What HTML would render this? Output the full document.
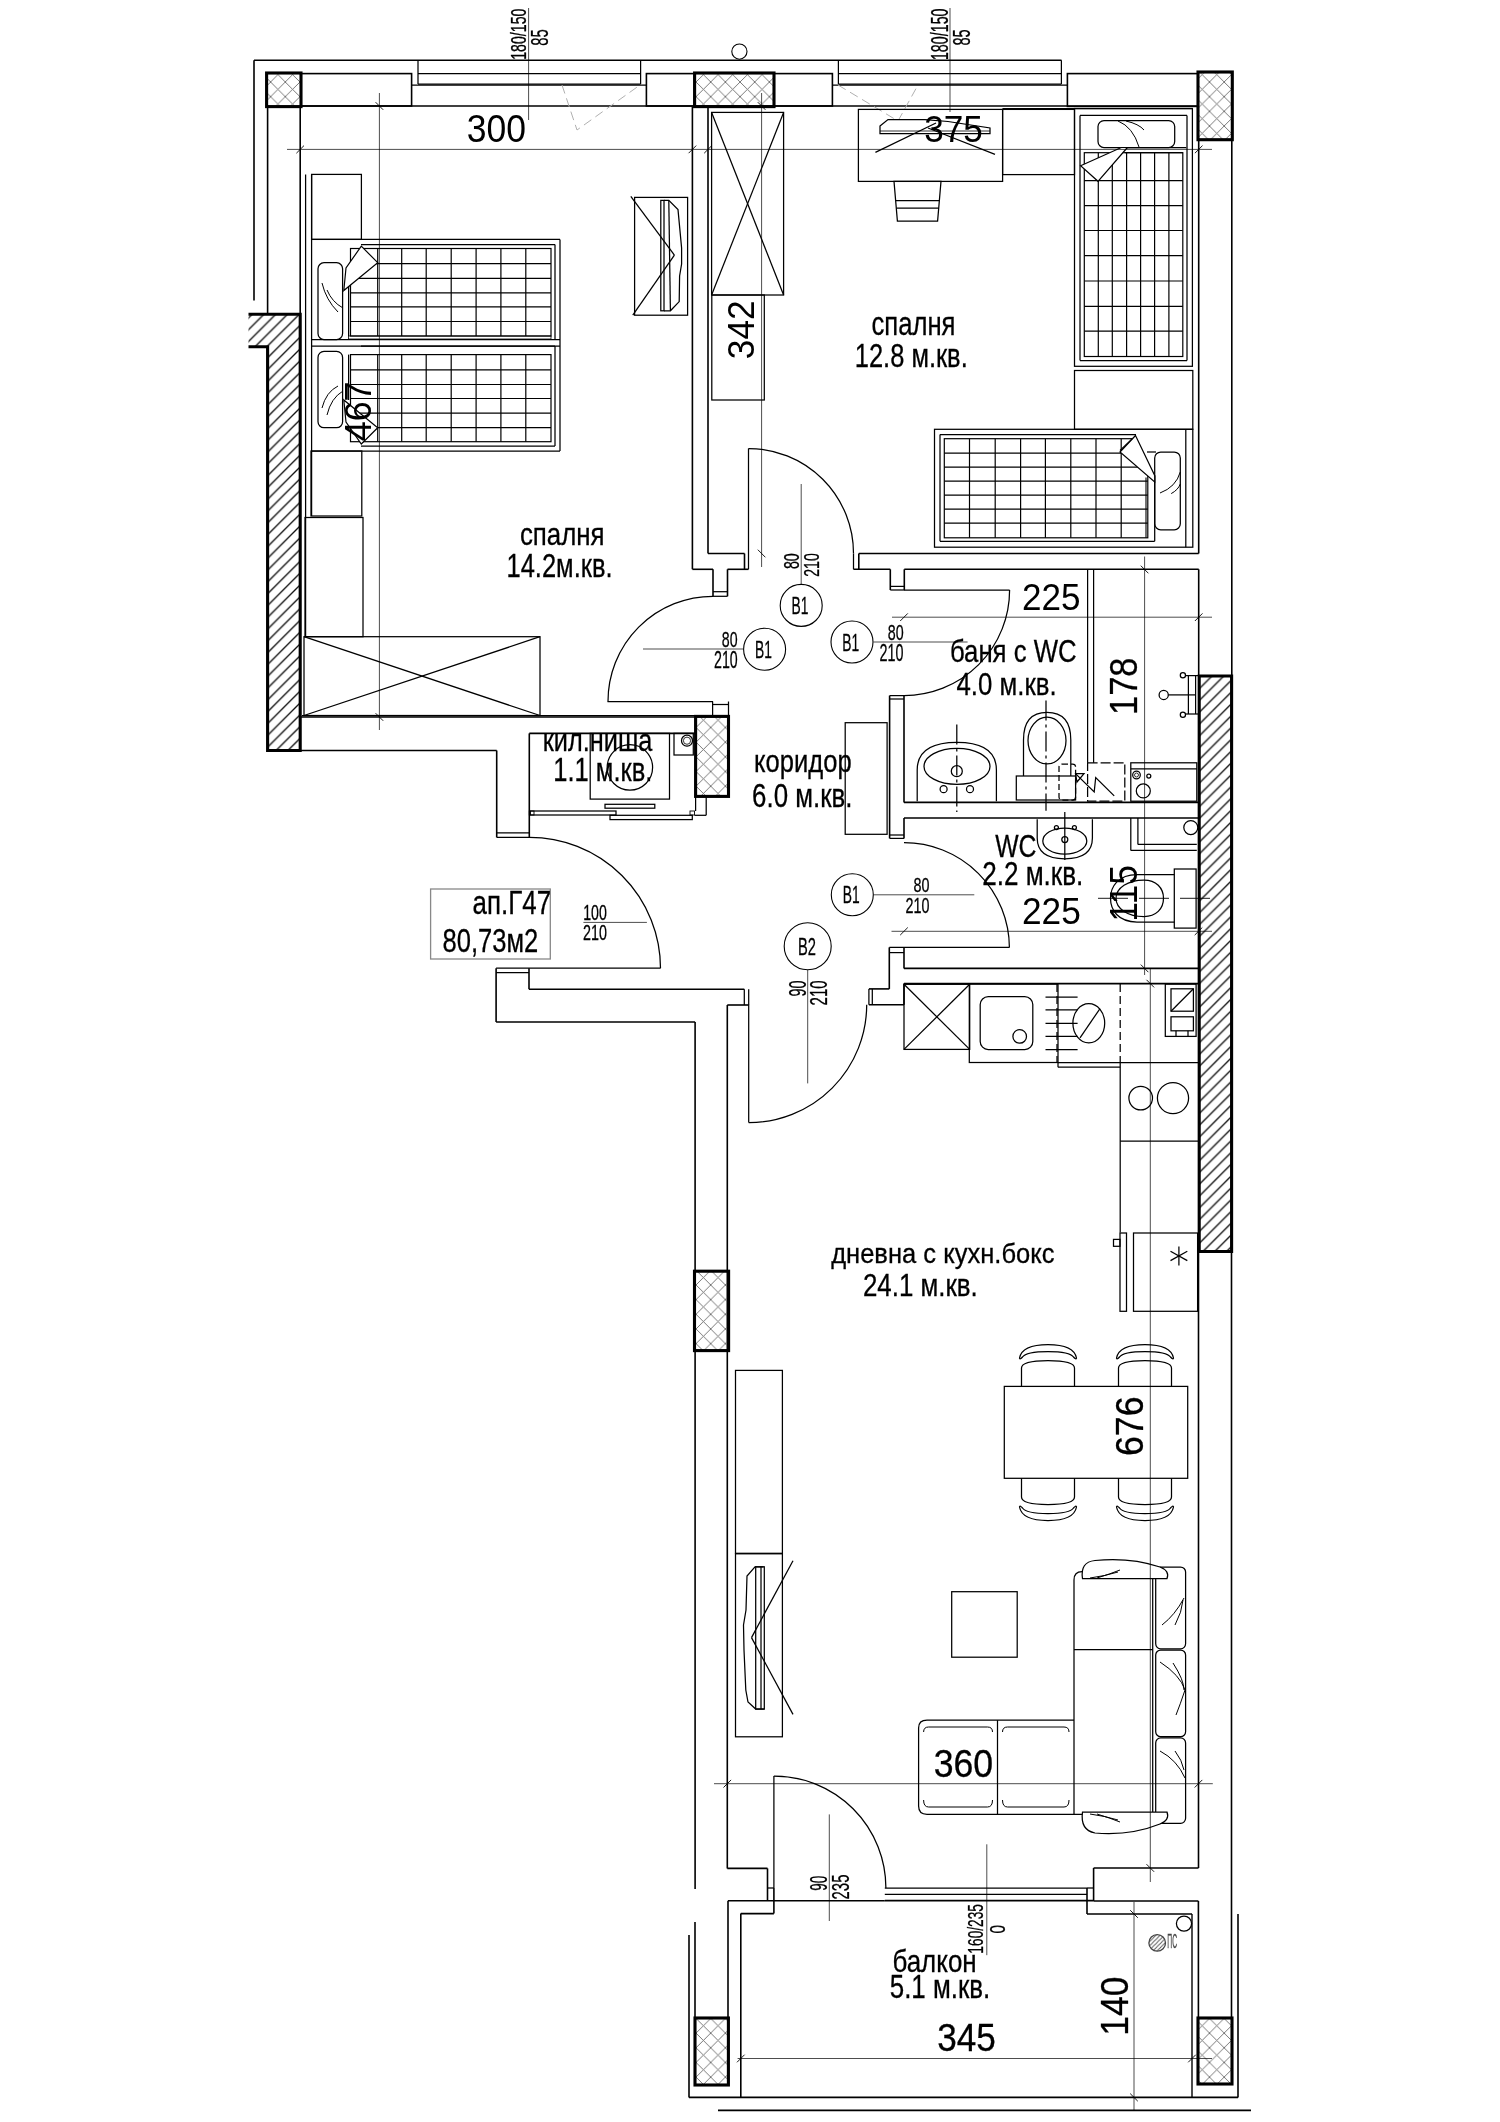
<!DOCTYPE html>
<html><head><meta charset="utf-8"><title>Floor plan</title>
<style>html,body{margin:0;padding:0;background:#fff;}body{width:1500px;height:2122px;overflow:hidden;font-family:"Liberation Sans",sans-serif;}svg{display:block;will-change:transform;}</style>
</head><body>
<svg width="1500" height="2122" viewBox="0 0 1500 2122" font-family="Liberation Sans, sans-serif">
<defs>
<pattern id="hat" patternUnits="userSpaceOnUse" width="11.8" height="11.8">
<path d="M-2,2 L2,-2 M0,11.8 L11.8,0 M9.8,13.8 L13.8,9.8" stroke="#111" stroke-width="1.35"/>
</pattern>
<pattern id="xh" patternUnits="userSpaceOnUse" width="14.67" height="14.67" x="6.54" y="8.65">
<path d="M0,0 L14.67,14.67 M14.67,0 L0,14.67" stroke="#6a6a6a" stroke-width="0.9"/>
</pattern>
<pattern id="hat2" patternUnits="userSpaceOnUse" width="4.2" height="4.2">
<path d="M-1,1 L1,-1 M0,4.2 L4.2,0 M3.2,5.2 L5.2,3.2" stroke="#555" stroke-width="1"/>
</pattern>
</defs>
<rect x="0" y="0" width="1500" height="2122" fill="#fff"/>
<line x1="254" y1="60.3" x2="1061.5" y2="60.3" stroke="#000" stroke-width="1.6"/>
<line x1="254" y1="60.3" x2="254" y2="300.5" stroke="#000" stroke-width="1.6"/>
<rect x="301" y="73.6" width="110.6" height="32.4" fill="none" stroke="#000" stroke-width="1.6"/>
<rect x="646.4" y="73.6" width="48.1" height="32.4" fill="none" stroke="#000" stroke-width="1.6"/>
<rect x="774" y="73.6" width="58.4" height="32.4" fill="none" stroke="#000" stroke-width="1.6"/>
<rect x="1067.4" y="73.6" width="130.6" height="32.8" fill="none" stroke="#000" stroke-width="1.6"/>
<line x1="301" y1="106" x2="1198" y2="106" stroke="#000" stroke-width="1.6"/>
<line x1="418" y1="60.3" x2="418" y2="84" stroke="#000" stroke-width="1.25"/>
<line x1="640.6" y1="60.3" x2="640.6" y2="84" stroke="#000" stroke-width="1.25"/>
<line x1="418" y1="73.6" x2="640.6" y2="73.6" stroke="#000" stroke-width="1.25"/>
<line x1="418" y1="84" x2="640.6" y2="84" stroke="#000" stroke-width="1.25"/>
<line x1="411.6" y1="85.2" x2="646.4" y2="85.2" stroke="#000" stroke-width="1.25"/>
<line x1="838.4" y1="60.3" x2="838.4" y2="84" stroke="#000" stroke-width="1.25"/>
<line x1="1061.4" y1="60.3" x2="1061.4" y2="84" stroke="#000" stroke-width="1.25"/>
<line x1="838.4" y1="73.6" x2="1061.4" y2="73.6" stroke="#000" stroke-width="1.25"/>
<line x1="838.4" y1="84" x2="1061.4" y2="84" stroke="#000" stroke-width="1.25"/>
<line x1="832.4" y1="85.2" x2="1067.4" y2="85.2" stroke="#000" stroke-width="1.25"/>
<polyline points="562,85 577,130 640,85" fill="none" stroke="#b0b0b0" stroke-width="1" stroke-linejoin="miter" stroke-dasharray="9 5"/>
<polyline points="838,85 898,121 918,85" fill="none" stroke="#b0b0b0" stroke-width="1" stroke-linejoin="miter" stroke-dasharray="9 5"/>
<rect x="266.6" y="73" width="34.4" height="33.6" fill="url(#xh)" stroke="#000" stroke-width="3.1"/>
<rect x="694.6" y="73" width="79.4" height="33.6" fill="url(#xh)" stroke="#000" stroke-width="3.1"/>
<rect x="1198" y="72" width="34.3" height="67.7" fill="url(#xh)" stroke="#000" stroke-width="3.1"/>
<circle cx="739.4" cy="51.6" r="7.6" fill="none" stroke="#000" stroke-width="1.1"/>
<line x1="267.6" y1="106" x2="267.6" y2="313" stroke="#000" stroke-width="1.6"/>
<line x1="300.2" y1="106" x2="300.2" y2="313" stroke="#000" stroke-width="1.6"/>
<polygon points="248.5,314.2 300.2,314.2 300.2,750.5 267.6,750.5 267.6,346.8 248.5,346.8" fill="url(#hat)" stroke="#000" stroke-width="0" stroke-linejoin="miter"/>
<polyline points="248.5,314.2 300.2,314.2 300.2,750.5 267.6,750.5 267.6,346.8 248.5,346.8" fill="none" stroke="#000" stroke-width="3.1" stroke-linejoin="miter"/>
<line x1="1198.7" y1="139.7" x2="1198.7" y2="553.5" stroke="#000" stroke-width="1.6"/>
<line x1="1198.7" y1="569.3" x2="1198.7" y2="676" stroke="#000" stroke-width="1.6"/>
<line x1="1231.8" y1="139.7" x2="1231.8" y2="676" stroke="#000" stroke-width="1.6"/>
<polygon points="1199.2,676 1231.6,676 1231.6,1251.5 1199.2,1251.5" fill="url(#hat)" stroke="#000" stroke-width="3.1" stroke-linejoin="miter"/>
<line x1="1198.5" y1="1251.5" x2="1198.5" y2="1868" stroke="#000" stroke-width="1.6"/>
<line x1="1231.5" y1="1251.5" x2="1231.5" y2="2018" stroke="#000" stroke-width="1.6"/>
<line x1="692.4" y1="106.6" x2="692.4" y2="569.3" stroke="#000" stroke-width="1.6"/>
<line x1="708" y1="106.6" x2="708" y2="553.5" stroke="#000" stroke-width="1.6"/>
<line x1="708" y1="553.5" x2="744.5" y2="553.5" stroke="#000" stroke-width="1.6"/>
<line x1="858.8" y1="553.5" x2="1198.7" y2="553.5" stroke="#000" stroke-width="1.6"/>
<line x1="692.4" y1="569.3" x2="713" y2="569.3" stroke="#000" stroke-width="1.6"/>
<line x1="727.5" y1="569.3" x2="748.5" y2="569.3" stroke="#000" stroke-width="1.6"/>
<line x1="853.5" y1="569.3" x2="890.3" y2="569.3" stroke="#000" stroke-width="1.6"/>
<line x1="904.3" y1="569.3" x2="1198.7" y2="569.3" stroke="#000" stroke-width="1.6"/>
<line x1="713" y1="569.3" x2="713" y2="596.3" stroke="#000" stroke-width="1.6"/>
<line x1="727.5" y1="569.3" x2="727.5" y2="596.3" stroke="#000" stroke-width="1.6"/>
<line x1="713" y1="591.7" x2="727.5" y2="591.7" stroke="#000" stroke-width="1.25"/>
<line x1="713" y1="596.3" x2="727.5" y2="596.3" stroke="#000" stroke-width="1.25"/>
<line x1="744.5" y1="553.5" x2="744.5" y2="569.3" stroke="#000" stroke-width="1.6"/>
<line x1="853.5" y1="553.5" x2="853.5" y2="569.3" stroke="#000" stroke-width="1.25"/>
<line x1="858.8" y1="553.5" x2="858.8" y2="569.3" stroke="#000" stroke-width="1.6"/>
<line x1="890.3" y1="569.3" x2="890.3" y2="590" stroke="#000" stroke-width="1.6"/>
<line x1="904.3" y1="569.3" x2="904.3" y2="590" stroke="#000" stroke-width="1.6"/>
<line x1="890.3" y1="586.4" x2="904.3" y2="586.4" stroke="#000" stroke-width="1.25"/>
<line x1="890.3" y1="590" x2="904.3" y2="590" stroke="#000" stroke-width="1.25"/>
<line x1="748.5" y1="448.5" x2="748.5" y2="569.3" stroke="#000" stroke-width="1.25"/>
<path d="M748.5 448.5A105 105 0 0 1 853.5 553.5" fill="none" stroke="#000" stroke-width="1.25"/>
<line x1="607.5" y1="701.5" x2="713" y2="701.5" stroke="#000" stroke-width="1.25"/>
<path d="M713 596.3A105 105 0 0 0 608 701.5" fill="none" stroke="#000" stroke-width="1.25"/>
<line x1="712.6" y1="701.5" x2="712.6" y2="716.4" stroke="#000" stroke-width="1.25"/>
<line x1="728.5" y1="701.5" x2="728.5" y2="716.4" stroke="#000" stroke-width="1.25"/>
<line x1="712.6" y1="704.5" x2="728.5" y2="704.5" stroke="#000" stroke-width="1.25"/>
<line x1="904" y1="590" x2="1009.6" y2="590" stroke="#000" stroke-width="1.25"/>
<path d="M1009.6 590A105.6 105.6 0 0 1 904 695.6" fill="none" stroke="#000" stroke-width="1.25"/>
<line x1="889.3" y1="947.4" x2="1009.4" y2="947.4" stroke="#000" stroke-width="1.25"/>
<path d="M904 842.7A105.4 105.4 0 0 1 1009.4 947.4" fill="none" stroke="#000" stroke-width="1.25"/>
<line x1="529" y1="968.2" x2="660.5" y2="968.2" stroke="#000" stroke-width="1.25"/>
<path d="M529 837.4A131 131 0 0 1 660.5 968.2" fill="none" stroke="#000" stroke-width="1.25"/>
<line x1="748.7" y1="1004.7" x2="748.7" y2="1122.6" stroke="#000" stroke-width="1.25"/>
<path d="M866.7 1004.7A118 118 0 0 1 748.7 1122.7" fill="none" stroke="#000" stroke-width="1.25"/>
<line x1="773.9" y1="1776" x2="773.9" y2="1888" stroke="#000" stroke-width="1.25"/>
<path d="M773.9 1776A112 112 0 0 1 885.9 1888" fill="none" stroke="#000" stroke-width="1.25"/>
<line x1="889.6" y1="695.6" x2="889.6" y2="838.4" stroke="#000" stroke-width="1.6"/>
<line x1="904" y1="695.6" x2="904" y2="802.4" stroke="#000" stroke-width="1.6"/>
<line x1="904" y1="818" x2="904" y2="838.4" stroke="#000" stroke-width="1.6"/>
<line x1="889.6" y1="695.6" x2="904" y2="695.6" stroke="#000" stroke-width="1.25"/>
<line x1="889.6" y1="699" x2="904" y2="699" stroke="#000" stroke-width="1.25"/>
<line x1="889.6" y1="835" x2="904" y2="835" stroke="#000" stroke-width="1.25"/>
<line x1="889.6" y1="838.4" x2="904" y2="838.4" stroke="#000" stroke-width="1.25"/>
<line x1="904" y1="802.4" x2="1199" y2="802.4" stroke="#000" stroke-width="1.6"/>
<line x1="904" y1="818" x2="1199" y2="818" stroke="#000" stroke-width="1.6"/>
<line x1="889.3" y1="947.4" x2="889.3" y2="988.9" stroke="#000" stroke-width="1.6"/>
<line x1="904" y1="947.4" x2="904" y2="968.5" stroke="#000" stroke-width="1.6"/>
<line x1="889.3" y1="952.6" x2="904" y2="952.6" stroke="#000" stroke-width="1.25"/>
<line x1="904" y1="968.4" x2="1198.5" y2="968.4" stroke="#000" stroke-width="1.6"/>
<line x1="904" y1="983.6" x2="1198.5" y2="983.6" stroke="#000" stroke-width="1.6"/>
<line x1="868.9" y1="988.9" x2="889.3" y2="988.9" stroke="#000" stroke-width="1.6"/>
<line x1="868.9" y1="988.9" x2="868.9" y2="1004.7" stroke="#000" stroke-width="1.25"/>
<line x1="872.3" y1="988.9" x2="872.3" y2="1004.7" stroke="#000" stroke-width="1.25"/>
<line x1="868.9" y1="1004.7" x2="904" y2="1004.7" stroke="#000" stroke-width="1.6"/>
<line x1="904" y1="983.6" x2="904" y2="1004.7" stroke="#000" stroke-width="1.6"/>
<line x1="1087.6" y1="569.6" x2="1087.6" y2="762.8" stroke="#000" stroke-width="1.25"/>
<line x1="1093.6" y1="569.6" x2="1093.6" y2="762.8" stroke="#000" stroke-width="1.25"/>
<line x1="300.2" y1="717" x2="695.6" y2="717" stroke="#000" stroke-width="1.6"/>
<line x1="300.2" y1="750.5" x2="496.7" y2="750.5" stroke="#000" stroke-width="1.6"/>
<line x1="496.7" y1="750.5" x2="496.7" y2="837.4" stroke="#000" stroke-width="1.6"/>
<line x1="529.3" y1="733.4" x2="529.3" y2="837.4" stroke="#000" stroke-width="1.6"/>
<line x1="529.3" y1="733.4" x2="695.6" y2="733.4" stroke="#000" stroke-width="1.6"/>
<line x1="496.7" y1="832.9" x2="529.3" y2="832.9" stroke="#000" stroke-width="1.25"/>
<line x1="496.7" y1="837.4" x2="529.3" y2="837.4" stroke="#000" stroke-width="1.25"/>
<line x1="496.1" y1="968.2" x2="529" y2="968.2" stroke="#000" stroke-width="1.25"/>
<line x1="496.1" y1="972.5" x2="529" y2="972.5" stroke="#000" stroke-width="1.25"/>
<line x1="496.1" y1="968.2" x2="496.1" y2="1022" stroke="#000" stroke-width="1.6"/>
<line x1="529" y1="968.2" x2="529" y2="989.3" stroke="#000" stroke-width="1.6"/>
<line x1="529" y1="989.3" x2="744.3" y2="989.3" stroke="#000" stroke-width="1.6"/>
<line x1="496.1" y1="1022" x2="695.1" y2="1022" stroke="#000" stroke-width="1.6"/>
<line x1="744.3" y1="989.3" x2="744.3" y2="1005" stroke="#000" stroke-width="1.25"/>
<line x1="748.7" y1="989.3" x2="748.7" y2="1005" stroke="#000" stroke-width="1.25"/>
<line x1="727.3" y1="1005" x2="748.7" y2="1005" stroke="#000" stroke-width="1.6"/>
<rect x="695.6" y="716.4" width="32.9" height="80" fill="url(#xh)" stroke="#000" stroke-width="3.1"/>
<line x1="695.6" y1="796.4" x2="695.6" y2="811" stroke="#000" stroke-width="1.25"/>
<rect x="590.2" y="733.4" width="79.3" height="65.7" fill="none" stroke="#000" stroke-width="1.25"/>
<circle cx="629.9" cy="767.4" r="22.7" fill="none" stroke="#000" stroke-width="1.25"/>
<rect x="674" y="733.4" width="19.3" height="21.6" fill="none" stroke="#000" stroke-width="1.25"/>
<circle cx="687" cy="740.7" r="5.5" fill="none" stroke="#000" stroke-width="1.25"/>
<circle cx="687" cy="740.7" r="3.6" fill="none" stroke="#000" stroke-width="0.8"/>
<rect x="605" y="804.3" width="49.8" height="3.9" fill="none" stroke="#000" stroke-width="1.25"/>
<rect x="530.3" y="811" width="85.7" height="4" fill="none" stroke="#000" stroke-width="1.25"/>
<rect x="610" y="815.3" width="82.3" height="4.3" fill="none" stroke="#000" stroke-width="1.25"/>
<rect x="529.3" y="811" width="4.7" height="4" fill="none" stroke="#000" stroke-width="0.9"/>
<rect x="690" y="811" width="4.5" height="4" fill="none" stroke="#000" stroke-width="0.9"/>
<line x1="694.5" y1="815.3" x2="706.2" y2="815.3" stroke="#000" stroke-width="1.25"/>
<line x1="706.2" y1="796.4" x2="706.2" y2="815.3" stroke="#000" stroke-width="1.25"/>
<line x1="695.1" y1="1022" x2="695.1" y2="1889" stroke="#000" stroke-width="1.6"/>
<line x1="727.3" y1="1005" x2="727.3" y2="1868.4" stroke="#000" stroke-width="1.6"/>
<rect x="694.5" y="1271.2" width="34.1" height="79.4" fill="url(#xh)" stroke="#000" stroke-width="3.1"/>
<line x1="1093.6" y1="1868" x2="1198.5" y2="1868" stroke="#000" stroke-width="1.6"/>
<line x1="1093.6" y1="1868" x2="1093.6" y2="1901" stroke="#000" stroke-width="1.6"/>
<line x1="1093.6" y1="1901" x2="1198.4" y2="1901" stroke="#000" stroke-width="1.6"/>
<line x1="1198.4" y1="1901" x2="1198.4" y2="2018" stroke="#000" stroke-width="1.6"/>
<line x1="727.3" y1="1868.4" x2="767.5" y2="1868.4" stroke="#000" stroke-width="1.6"/>
<line x1="767.5" y1="1868.4" x2="767.5" y2="1900.8" stroke="#000" stroke-width="1.6"/>
<line x1="773.9" y1="1888" x2="773.9" y2="1913.6" stroke="#000" stroke-width="1.6"/>
<line x1="767.5" y1="1888" x2="773.9" y2="1888" stroke="#000" stroke-width="1.25"/>
<line x1="728" y1="1900.8" x2="884.8" y2="1900.8" stroke="#000" stroke-width="1.6"/>
<line x1="728" y1="1900.8" x2="728" y2="2018" stroke="#000" stroke-width="1.6"/>
<line x1="740.8" y1="1913.6" x2="773.9" y2="1913.6" stroke="#000" stroke-width="1.6"/>
<line x1="740.8" y1="1913.6" x2="740.8" y2="2097.4" stroke="#000" stroke-width="1.6"/>
<line x1="884.8" y1="1888" x2="1087" y2="1888" stroke="#000" stroke-width="1.25"/>
<line x1="884.8" y1="1894.4" x2="1087" y2="1894.4" stroke="#000" stroke-width="1.25"/>
<line x1="884.8" y1="1900.6" x2="1093.6" y2="1900.6" stroke="#000" stroke-width="1.6"/>
<line x1="1087" y1="1888" x2="1087" y2="1914" stroke="#000" stroke-width="1.6"/>
<line x1="1093.6" y1="1888" x2="1087" y2="1888" stroke="#000" stroke-width="1.25"/>
<line x1="1087" y1="1914" x2="1192" y2="1914" stroke="#000" stroke-width="1.4"/>
<line x1="1192" y1="1914" x2="1192" y2="2097" stroke="#000" stroke-width="1.4"/>
<line x1="695" y1="1922" x2="695" y2="2018" stroke="#000" stroke-width="1.6"/>
<line x1="689" y1="1935" x2="689" y2="2097.4" stroke="#000" stroke-width="1.6"/>
<line x1="689" y1="2097.4" x2="1238" y2="2097.4" stroke="#000" stroke-width="1.6"/>
<line x1="1238" y1="1914" x2="1238" y2="2097.4" stroke="#000" stroke-width="1.6"/>
<line x1="718" y1="2110.4" x2="1251" y2="2110.4" stroke="#000" stroke-width="1.6"/>
<rect x="695" y="2018" width="33.4" height="67" fill="url(#xh)" stroke="#000" stroke-width="3.1"/>
<rect x="1198" y="2018" width="34" height="66" fill="url(#xh)" stroke="#000" stroke-width="3.1"/>
<circle cx="1184" cy="1923.6" r="7.6" fill="none" stroke="#000" stroke-width="1.25"/>
<circle cx="1157.2" cy="1942.9" r="8.3" fill="url(#hat2)" stroke="#444" stroke-width="1.3"/>
<line x1="305.6" y1="174.4" x2="305.6" y2="636.7" stroke="#000" stroke-width="1.25"/>
<line x1="311.6" y1="174.4" x2="311.6" y2="516" stroke="#000" stroke-width="1.25"/>
<rect x="311.6" y="174.4" width="49.8" height="65" fill="none" stroke="#000" stroke-width="1.25"/>
<line x1="311.6" y1="239.4" x2="560" y2="239.4" stroke="#000" stroke-width="1.25"/>
<line x1="560" y1="239.4" x2="560" y2="451" stroke="#000" stroke-width="1.25"/>
<line x1="311.6" y1="339.5" x2="560" y2="339.5" stroke="#000" stroke-width="1.25"/>
<line x1="311.6" y1="346" x2="560" y2="346" stroke="#000" stroke-width="1.25"/>
<line x1="311.6" y1="451" x2="560" y2="451" stroke="#000" stroke-width="1.25"/>
<line x1="361" y1="244.5" x2="555" y2="244.5" stroke="#000" stroke-width="1.25"/>
<line x1="555" y1="244.5" x2="555" y2="339.5" stroke="#000" stroke-width="1.25"/>
<rect x="348.5" y="336" width="202.5" height="3" fill="none" stroke="#000" stroke-width="0.8"/>
<rect x="350.5" y="248.5" width="200.5" height="87.5" fill="none" stroke="#000" stroke-width="1.2"/>
<line x1="377.7" y1="248.5" x2="377.7" y2="336" stroke="#000" stroke-width="1.2"/>
<line x1="401.7" y1="248.5" x2="401.7" y2="336" stroke="#000" stroke-width="1.2"/>
<line x1="426.2" y1="248.5" x2="426.2" y2="336" stroke="#000" stroke-width="1.2"/>
<line x1="451.2" y1="248.5" x2="451.2" y2="336" stroke="#000" stroke-width="1.2"/>
<line x1="476.1" y1="248.5" x2="476.1" y2="336" stroke="#000" stroke-width="1.2"/>
<line x1="500.9" y1="248.5" x2="500.9" y2="336" stroke="#000" stroke-width="1.2"/>
<line x1="525.8" y1="248.5" x2="525.8" y2="336" stroke="#000" stroke-width="1.2"/>
<line x1="350.5" y1="263.6" x2="551" y2="263.6" stroke="#000" stroke-width="1.2"/>
<line x1="350.5" y1="278.3" x2="551" y2="278.3" stroke="#000" stroke-width="1.2"/>
<line x1="350.5" y1="292.8" x2="551" y2="292.8" stroke="#000" stroke-width="1.2"/>
<line x1="350.5" y1="306.8" x2="551" y2="306.8" stroke="#000" stroke-width="1.2"/>
<line x1="350.5" y1="321.5" x2="551" y2="321.5" stroke="#000" stroke-width="1.2"/>
<rect x="318" y="262.7" width="24.6" height="76.8" fill="none" stroke="#000" stroke-width="1.25" rx="6"/>
<line x1="348.6" y1="268" x2="348.6" y2="336" stroke="#000" stroke-width="1.25"/>
<path d="M327 290 Q332 302 343 308" fill="none" stroke="#000" stroke-width="1"/>
<path d="M322 283 Q326 300 338 312" fill="none" stroke="#000" stroke-width="1"/>
<polygon points="361.3,246.1 377.7,262.7 343.8,290.5 346,268" fill="#fff" stroke="#000" stroke-width="1.2" stroke-linejoin="miter"/>
<line x1="361" y1="346" x2="555" y2="346" stroke="#000" stroke-width="1.25"/>
<line x1="555" y1="346" x2="555" y2="446" stroke="#000" stroke-width="1.25"/>
<line x1="361" y1="446" x2="555" y2="446" stroke="#000" stroke-width="1.25"/>
<rect x="350.5" y="354.6" width="200.5" height="87.1" fill="none" stroke="#000" stroke-width="1.2"/>
<line x1="377.7" y1="354.6" x2="377.7" y2="441.7" stroke="#000" stroke-width="1.2"/>
<line x1="401.7" y1="354.6" x2="401.7" y2="441.7" stroke="#000" stroke-width="1.2"/>
<line x1="426.2" y1="354.6" x2="426.2" y2="441.7" stroke="#000" stroke-width="1.2"/>
<line x1="451.2" y1="354.6" x2="451.2" y2="441.7" stroke="#000" stroke-width="1.2"/>
<line x1="476.1" y1="354.6" x2="476.1" y2="441.7" stroke="#000" stroke-width="1.2"/>
<line x1="500.9" y1="354.6" x2="500.9" y2="441.7" stroke="#000" stroke-width="1.2"/>
<line x1="525.8" y1="354.6" x2="525.8" y2="441.7" stroke="#000" stroke-width="1.2"/>
<line x1="350.5" y1="369.8" x2="551" y2="369.8" stroke="#000" stroke-width="1.2"/>
<line x1="350.5" y1="384.5" x2="551" y2="384.5" stroke="#000" stroke-width="1.2"/>
<line x1="350.5" y1="398.5" x2="551" y2="398.5" stroke="#000" stroke-width="1.2"/>
<line x1="350.5" y1="413.2" x2="551" y2="413.2" stroke="#000" stroke-width="1.2"/>
<line x1="350.5" y1="427.7" x2="551" y2="427.7" stroke="#000" stroke-width="1.2"/>
<rect x="318" y="351.4" width="24.6" height="76.3" fill="none" stroke="#000" stroke-width="1.25" rx="6"/>
<line x1="348.6" y1="354.6" x2="348.6" y2="400" stroke="#000" stroke-width="1.25"/>
<path d="M338 386 Q326 392 322 408" fill="none" stroke="#000" stroke-width="1"/>
<path d="M343 391 Q331 398 327 415" fill="none" stroke="#000" stroke-width="1"/>
<polygon points="361.3,444 377.7,427.7 343.8,400 346,422" fill="#fff" stroke="#000" stroke-width="1.2" stroke-linejoin="miter"/>
<rect x="311" y="451" width="50.8" height="65" fill="none" stroke="#000" stroke-width="1.25"/>
<rect x="305" y="517.5" width="58" height="119.2" fill="none" stroke="#000" stroke-width="1.25"/>
<rect x="304" y="636.7" width="236" height="78.8" fill="none" stroke="#000" stroke-width="1.25"/>
<line x1="304" y1="636.7" x2="540" y2="715.5" stroke="#000" stroke-width="1.25"/>
<line x1="304" y1="715.5" x2="540" y2="636.7" stroke="#000" stroke-width="1.25"/>
<line x1="302" y1="715.5" x2="695.6" y2="715.5" stroke="#000" stroke-width="1.25"/>
<rect x="634.6" y="197.4" width="53" height="117.8" fill="none" stroke="#000" stroke-width="1.25"/>
<line x1="630.8" y1="196.4" x2="674.4" y2="255.2" stroke="#000" stroke-width="1.25"/>
<line x1="674.4" y1="255.2" x2="632.8" y2="315.2" stroke="#000" stroke-width="1.25"/>
<rect x="660.8" y="200.4" width="3.2" height="110.4" fill="none" stroke="#000" stroke-width="1.25"/>
<polyline points="664,200.4 668.8,200.4 678,209.6 681.6,248 681.6,264 679.6,276 679.2,301.6 670.4,310.8 664,310.8" fill="none" stroke="#000" stroke-width="1.25" stroke-linejoin="miter"/>
<line x1="668.8" y1="200.4" x2="670.4" y2="310.8" stroke="#000" stroke-width="1.25"/>
<rect x="711.6" y="112.4" width="72" height="182.6" fill="none" stroke="#000" stroke-width="1.25"/>
<line x1="711.6" y1="112.4" x2="783.6" y2="295" stroke="#000" stroke-width="1.25"/>
<line x1="711.6" y1="295" x2="783.6" y2="112.4" stroke="#000" stroke-width="1.25"/>
<rect x="711.8" y="295" width="52.5" height="105" fill="none" stroke="#000" stroke-width="1.25"/>
<line x1="1002.6" y1="108.5" x2="1192.4" y2="108.5" stroke="#000" stroke-width="1.25"/>
<rect x="858.4" y="109.4" width="144.2" height="72" fill="none" stroke="#000" stroke-width="1.25"/>
<polygon points="894,181.4 941,181.4 937.6,221 897.4,221" fill="none" stroke="#000" stroke-width="1.25" stroke-linejoin="miter"/>
<line x1="896" y1="200.6" x2="939" y2="200.6" stroke="#000" stroke-width="1.25"/>
<line x1="896.6" y1="208" x2="938.4" y2="208" stroke="#000" stroke-width="1.25"/>
<polygon points="880,126 888,119.6 925,119.6 948,121.5 990,128 990,133.5 880,133.5" fill="#fff" stroke="#000" stroke-width="1.25" stroke-linejoin="miter"/>
<line x1="880" y1="131" x2="990" y2="131" stroke="#000" stroke-width="0.8"/>
<line x1="875.4" y1="152.4" x2="936" y2="123" stroke="#000" stroke-width="1.25"/>
<line x1="928" y1="128" x2="995" y2="154.4" stroke="#000" stroke-width="1.25"/>
<rect x="1002.6" y="109.4" width="71.9" height="65.2" fill="none" stroke="#000" stroke-width="1.25"/>
<rect x="1074.5" y="108.5" width="117.9" height="257.8" fill="none" stroke="#000" stroke-width="1.25"/>
<line x1="1080" y1="115.4" x2="1187" y2="115.4" stroke="#000" stroke-width="1.25"/>
<line x1="1080" y1="115.4" x2="1080" y2="360.5" stroke="#000" stroke-width="1.25"/>
<line x1="1187" y1="115.4" x2="1187" y2="360.5" stroke="#000" stroke-width="1.25"/>
<line x1="1080" y1="360.5" x2="1187" y2="360.5" stroke="#000" stroke-width="1.25"/>
<rect x="1098" y="120.6" width="76.7" height="26.9" fill="none" stroke="#000" stroke-width="1.25" rx="6"/>
<path d="M1118 121 Q1133 127 1139 147" fill="none" stroke="#000" stroke-width="1"/>
<path d="M1126 121 Q1139 124 1144 130" fill="none" stroke="#000" stroke-width="1"/>
<line x1="1121" y1="147.5" x2="1186.3" y2="147.5" stroke="#000" stroke-width="1.25"/>
<line x1="1125" y1="152.7" x2="1182.8" y2="152.7" stroke="#000" stroke-width="1.25"/>
<rect x="1084.3" y="152.7" width="98.5" height="203.8" fill="none" stroke="#000" stroke-width="1.2"/>
<line x1="1098.3" y1="152.7" x2="1098.3" y2="356.5" stroke="#000" stroke-width="1.2"/>
<line x1="1112.3" y1="152.7" x2="1112.3" y2="356.5" stroke="#000" stroke-width="1.2"/>
<line x1="1126.6" y1="152.7" x2="1126.6" y2="356.5" stroke="#000" stroke-width="1.2"/>
<line x1="1140.6" y1="152.7" x2="1140.6" y2="356.5" stroke="#000" stroke-width="1.2"/>
<line x1="1154.6" y1="152.7" x2="1154.6" y2="356.5" stroke="#000" stroke-width="1.2"/>
<line x1="1168.9" y1="152.7" x2="1168.9" y2="356.5" stroke="#000" stroke-width="1.2"/>
<line x1="1084.3" y1="180.7" x2="1182.8" y2="180.7" stroke="#000" stroke-width="1.2"/>
<line x1="1084.3" y1="205.6" x2="1182.8" y2="205.6" stroke="#000" stroke-width="1.2"/>
<line x1="1084.3" y1="230.5" x2="1182.8" y2="230.5" stroke="#000" stroke-width="1.2"/>
<line x1="1084.3" y1="255.7" x2="1182.8" y2="255.7" stroke="#000" stroke-width="1.2"/>
<line x1="1084.3" y1="281" x2="1182.8" y2="281" stroke="#000" stroke-width="1.2"/>
<line x1="1084.3" y1="306.3" x2="1182.8" y2="306.3" stroke="#000" stroke-width="1.2"/>
<line x1="1084.3" y1="331.2" x2="1182.8" y2="331.2" stroke="#000" stroke-width="1.2"/>
<polygon points="1080.6,165.7 1121.3,147.5 1127.4,147.5 1098,181.3" fill="#fff" stroke="#000" stroke-width="1.2" stroke-linejoin="miter"/>
<rect x="1074.5" y="370.5" width="118.3" height="58.8" fill="none" stroke="#000" stroke-width="1.25"/>
<rect x="934.5" y="429.3" width="258.3" height="117.9" fill="none" stroke="#000" stroke-width="1.25"/>
<line x1="940" y1="434.5" x2="1136" y2="434.5" stroke="#000" stroke-width="1.25"/>
<line x1="940" y1="434.5" x2="940" y2="541.3" stroke="#000" stroke-width="1.25"/>
<line x1="940" y1="541.3" x2="1154.7" y2="541.3" stroke="#000" stroke-width="1.25"/>
<rect x="944.3" y="438.7" width="203.5" height="99.1" fill="none" stroke="#000" stroke-width="1.2"/>
<line x1="969.5" y1="438.7" x2="969.5" y2="537.8" stroke="#000" stroke-width="1.2"/>
<line x1="995.2" y1="438.7" x2="995.2" y2="537.8" stroke="#000" stroke-width="1.2"/>
<line x1="1020.6" y1="438.7" x2="1020.6" y2="537.8" stroke="#000" stroke-width="1.2"/>
<line x1="1045.4" y1="438.7" x2="1045.4" y2="537.8" stroke="#000" stroke-width="1.2"/>
<line x1="1070.8" y1="438.7" x2="1070.8" y2="537.8" stroke="#000" stroke-width="1.2"/>
<line x1="1096" y1="438.7" x2="1096" y2="537.8" stroke="#000" stroke-width="1.2"/>
<line x1="1121.2" y1="438.7" x2="1121.2" y2="537.8" stroke="#000" stroke-width="1.2"/>
<line x1="944.3" y1="453.1" x2="1147.8" y2="453.1" stroke="#000" stroke-width="1.2"/>
<line x1="944.3" y1="467.1" x2="1147.8" y2="467.1" stroke="#000" stroke-width="1.2"/>
<line x1="944.3" y1="481.1" x2="1147.8" y2="481.1" stroke="#000" stroke-width="1.2"/>
<line x1="944.3" y1="495.1" x2="1147.8" y2="495.1" stroke="#000" stroke-width="1.2"/>
<line x1="944.3" y1="509.1" x2="1147.8" y2="509.1" stroke="#000" stroke-width="1.2"/>
<line x1="944.3" y1="523.1" x2="1147.8" y2="523.1" stroke="#000" stroke-width="1.2"/>
<line x1="1146" y1="477.6" x2="1146" y2="537.8" stroke="#000" stroke-width="1.1"/>
<polygon points="1134,436.5 1150,436.5 1150,478 1154.7,481.9" fill="#fff" stroke="#000" stroke-width="0" stroke-linejoin="miter"/>
<rect x="1154.7" y="452" width="25.6" height="77.8" fill="none" stroke="#000" stroke-width="1.25" rx="6"/>
<line x1="1147" y1="452" x2="1156" y2="452" stroke="#000" stroke-width="1.25"/>
<path d="M1160 493 Q1176 487 1180.3 472" fill="none" stroke="#000" stroke-width="1"/>
<path d="M1171.2 493.6 Q1178 490 1180.3 484" fill="none" stroke="#000" stroke-width="1"/>
<line x1="1185.8" y1="429.3" x2="1185.8" y2="547.2" stroke="#000" stroke-width="1.25"/>
<line x1="1154.7" y1="475.5" x2="1154.7" y2="541.3" stroke="#000" stroke-width="1.25"/>
<polygon points="1135.5,435.5 1120,452 1154.7,481.9 1154.7,475.5" fill="#fff" stroke="#000" stroke-width="1.2" stroke-linejoin="miter"/>
<line x1="1120" y1="450.5" x2="1132.3" y2="438.7" stroke="#000" stroke-width="1.1"/>
<path d="M917.2 801.2 L917.2 770 Q917.2 742.4 957 742.4 Q996.4 742.4 996.4 770 L996.4 801.2" fill="none" stroke="#000" stroke-width="1.25"/>
<ellipse cx="957" cy="766.4" rx="33" ry="18" fill="none" stroke="#000" stroke-width="1.25"/>
<circle cx="956.8" cy="771.2" r="5.5" fill="none" stroke="#000" stroke-width="1.25"/>
<circle cx="943.6" cy="789.2" r="3.5" fill="none" stroke="#000" stroke-width="1.25"/>
<circle cx="970" cy="789.2" r="3.5" fill="none" stroke="#000" stroke-width="1.25"/>
<line x1="956.8" y1="724.4" x2="956.8" y2="812" stroke="#000" stroke-width="1.25" stroke-dasharray="20 4 3 4"/>
<rect x="1016.3" y="776" width="59.3" height="24" fill="none" stroke="#000" stroke-width="1.25"/>
<path d="M1023.5 776 L1023.5 740 Q1023.5 712.4 1047 712.4 Q1070.8 712.4 1070.8 740 L1070.8 776" fill="none" stroke="#000" stroke-width="1.25"/>
<ellipse cx="1047" cy="740.6" rx="19" ry="23.4" fill="none" stroke="#000" stroke-width="1.25"/>
<line x1="1046" y1="700.4" x2="1046" y2="810.8" stroke="#000" stroke-width="1.25" stroke-dasharray="20 4 3 4"/>
<rect x="1059" y="764" width="16.6" height="36" fill="none" stroke="#000" stroke-width="1.25" rx="3" stroke-dasharray="6 3"/>
<rect x="1087.6" y="762.8" width="37.2" height="38.4" fill="none" stroke="#000" stroke-width="1.25" stroke-dasharray="10 3"/>
<polyline points="1075.5,773.6 1094.2,792 1095.7,777.5 1114.2,795.9" fill="none" stroke="#000" stroke-width="1.25" stroke-linejoin="miter"/>
<polygon points="1075.5,773.6 1084,773.6 1077,782" fill="none" stroke="#000" stroke-width="1.25" stroke-linejoin="miter"/>
<rect x="1130.8" y="762.8" width="66" height="38.4" fill="none" stroke="#000" stroke-width="1.25"/>
<line x1="1130.8" y1="768.8" x2="1196.8" y2="768.8" stroke="#000" stroke-width="1.25"/>
<circle cx="1136.5" cy="775" r="3.8" fill="none" stroke="#000" stroke-width="1.25"/>
<circle cx="1136.5" cy="775" r="2" fill="none" stroke="#000" stroke-width="0.8"/>
<circle cx="1148.8" cy="776" r="2" fill="none" stroke="#000" stroke-width="1.25"/>
<circle cx="1143.3" cy="790.9" r="7" fill="none" stroke="#000" stroke-width="1.25"/>
<circle cx="1182.9" cy="675.2" r="2.6" fill="none" stroke="#000" stroke-width="1.25"/>
<circle cx="1163.7" cy="694.9" r="4.6" fill="none" stroke="#000" stroke-width="1.25"/>
<circle cx="1182.9" cy="714.8" r="2.6" fill="none" stroke="#000" stroke-width="1.25"/>
<line x1="1168.3" y1="694.9" x2="1196" y2="694.9" stroke="#000" stroke-width="1.25"/>
<line x1="1188.4" y1="675.6" x2="1188.4" y2="714" stroke="#000" stroke-width="1.25"/>
<line x1="1195.6" y1="675.6" x2="1195.6" y2="714" stroke="#000" stroke-width="1.25"/>
<line x1="1185.5" y1="675.6" x2="1198" y2="675.6" stroke="#000" stroke-width="1.25"/>
<line x1="1185.5" y1="714" x2="1198" y2="714" stroke="#000" stroke-width="1.25"/>
<path d="M1037.2 819.2 L1037.2 838 Q1037.2 858.8 1064.8 858.8 Q1092.4 858.8 1092.4 838 L1092.4 819.2" fill="none" stroke="#000" stroke-width="1.25"/>
<ellipse cx="1064.8" cy="841" rx="22" ry="13" fill="none" stroke="#000" stroke-width="1.25"/>
<circle cx="1064.8" cy="839.6" r="3" fill="none" stroke="#000" stroke-width="1.25"/>
<circle cx="1056.4" cy="827.6" r="2" fill="none" stroke="#000" stroke-width="1.25"/>
<circle cx="1074.4" cy="827.6" r="2" fill="none" stroke="#000" stroke-width="1.25"/>
<line x1="1064.8" y1="812" x2="1064.8" y2="860" stroke="#000" stroke-width="1.25"/>
<line x1="1130.8" y1="818" x2="1130.8" y2="850.4" stroke="#000" stroke-width="1.25"/>
<line x1="1137.9" y1="818" x2="1137.9" y2="844.4" stroke="#000" stroke-width="1.25"/>
<line x1="1137.9" y1="844.4" x2="1196.8" y2="844.4" stroke="#000" stroke-width="1.25"/>
<line x1="1130.8" y1="850.4" x2="1196.8" y2="850.4" stroke="#000" stroke-width="1.25"/>
<circle cx="1190.8" cy="827.6" r="7" fill="none" stroke="#000" stroke-width="1.25"/>
<rect x="1174.3" y="869" width="21.8" height="59.1" fill="none" stroke="#000" stroke-width="1.25"/>
<path d="M1174.3 874.5 L1137 874.5 C1118 874.5 1110.5 887 1110.5 898.3 C1110.5 910 1118 922 1137 922 L1174.3 922" fill="none" stroke="#000" stroke-width="1.25"/>
<path d="M1144 880 C1156 880 1163.5 888 1163.5 898.3 C1163.5 909 1156 916.5 1144 916.5 C1128 916.5 1116 909 1116 898.3 C1116 888 1128 880 1144 880 Z" fill="none" stroke="#000" stroke-width="1.25"/>
<line x1="1098" y1="898.3" x2="1210" y2="898.3" stroke="#000" stroke-width="0.9" stroke-dasharray="30 11"/>
<rect x="904" y="984.3" width="65.7" height="65.1" fill="none" stroke="#000" stroke-width="1.25"/>
<line x1="904" y1="984.3" x2="969.7" y2="1049.4" stroke="#000" stroke-width="1.25"/>
<line x1="904" y1="1049.4" x2="969.7" y2="984.3" stroke="#000" stroke-width="1.25"/>
<rect x="969.3" y="984.1" width="88.7" height="78.4" fill="none" stroke="#000" stroke-width="1.25"/>
<rect x="980.2" y="996.6" width="52.6" height="52.9" fill="none" stroke="#000" stroke-width="1.25" rx="8"/>
<circle cx="1019.7" cy="1036.4" r="6.8" fill="none" stroke="#000" stroke-width="1.25"/>
<line x1="1058" y1="1067.2" x2="1120.2" y2="1067.2" stroke="#000" stroke-width="1.25"/>
<line x1="1058" y1="1062.5" x2="1058" y2="1067.2" stroke="#000" stroke-width="1.25"/>
<line x1="1045.5" y1="997.2" x2="1077.6" y2="997.2" stroke="#000" stroke-width="1.25"/>
<line x1="1045.5" y1="1009.9" x2="1077.6" y2="1009.9" stroke="#000" stroke-width="1.25"/>
<line x1="1045.5" y1="1023.3" x2="1077.6" y2="1023.3" stroke="#000" stroke-width="1.25"/>
<line x1="1045.5" y1="1036.4" x2="1077.6" y2="1036.4" stroke="#000" stroke-width="1.25"/>
<line x1="1045.5" y1="1049.5" x2="1077.6" y2="1049.5" stroke="#000" stroke-width="1.25"/>
<line x1="1057" y1="984.1" x2="1057" y2="1062.5" stroke="#000" stroke-width="1.25" stroke-dasharray="8 4"/>
<ellipse cx="1088.8" cy="1023.3" rx="15.9" ry="19.6" fill="none" stroke="#000" stroke-width="1.25"/>
<line x1="1080" y1="1037.8" x2="1100" y2="1008.6" stroke="#000" stroke-width="1.25"/>
<line x1="1120.2" y1="984.1" x2="1120.2" y2="1062.5" stroke="#000" stroke-width="1.25" stroke-dasharray="8 4"/>
<line x1="1058" y1="1062.5" x2="1198" y2="1062.5" stroke="#000" stroke-width="1.25"/>
<rect x="1165.3" y="984.1" width="30.8" height="52.3" fill="none" stroke="#000" stroke-width="1.25"/>
<rect x="1171" y="988.8" width="22.4" height="22.4" fill="none" stroke="#000" stroke-width="1.25"/>
<line x1="1171" y1="1011.2" x2="1193.4" y2="988.8" stroke="#000" stroke-width="1.25"/>
<rect x="1171" y="1016.8" width="22.4" height="14" fill="none" stroke="#000" stroke-width="1.25"/>
<line x1="1176" y1="1030.8" x2="1176" y2="1036.4" stroke="#000" stroke-width="1.25"/>
<line x1="1188" y1="1030.8" x2="1188" y2="1036.4" stroke="#000" stroke-width="1.25"/>
<line x1="1120.2" y1="1062.5" x2="1120.2" y2="1232.5" stroke="#000" stroke-width="1.25"/>
<circle cx="1140.7" cy="1098.1" r="11.8" fill="none" stroke="#000" stroke-width="1.25"/>
<circle cx="1173" cy="1098.1" r="15.6" fill="none" stroke="#000" stroke-width="1.25"/>
<line x1="1120.2" y1="1141" x2="1198" y2="1141" stroke="#000" stroke-width="1.25"/>
<rect x="1133.5" y="1233" width="64.1" height="78.3" fill="none" stroke="#000" stroke-width="1.25"/>
<rect x="1120" y="1233" width="6.5" height="78.3" fill="none" stroke="#000" stroke-width="1.25"/>
<rect x="1113.5" y="1239.4" width="6.5" height="6.9" fill="none" stroke="#000" stroke-width="1.25"/>
<line x1="1178.9" y1="1246.5" x2="1178.9" y2="1265.5" stroke="#000" stroke-width="1.25"/>
<line x1="1170.5" y1="1251.2" x2="1187.3" y2="1260.6" stroke="#000" stroke-width="1.25"/>
<line x1="1170.5" y1="1260.6" x2="1187.3" y2="1251.2" stroke="#000" stroke-width="1.25"/>
<rect x="735.5" y="1370.4" width="46.9" height="182.9" fill="none" stroke="#000" stroke-width="1.25"/>
<rect x="735.5" y="1553.8" width="46.9" height="183" fill="none" stroke="#000" stroke-width="1.25"/>
<polyline points="763.5,1566.8 755,1566.8 747,1576 746,1610 743.5,1625 744,1650 745.8,1690 748,1702 755.7,1709 764.5,1709" fill="none" stroke="#000" stroke-width="1.25" stroke-linejoin="miter"/>
<rect x="755.7" y="1566.8" width="8.6" height="142.2" fill="none" stroke="#000" stroke-width="1.25"/>
<line x1="761" y1="1566.8" x2="761" y2="1709" stroke="#000" stroke-width="1.25"/>
<line x1="793" y1="1560.8" x2="751.5" y2="1637.6" stroke="#000" stroke-width="1.25"/>
<line x1="751.5" y1="1637.6" x2="793" y2="1714.4" stroke="#000" stroke-width="1.25"/>
<rect x="1004.3" y="1386.4" width="183.4" height="91.9" fill="none" stroke="#000" stroke-width="1.25"/>
<path d="M1021.5 1386.4 L1021.5 1368 Q1021.5 1360.5 1048 1360.5 Q1074.5 1360.5 1074.5 1368 L1074.5 1386.4" fill="none" stroke="#000" stroke-width="1.25"/>
<path d="M1019.5 1358 Q1022 1344.5 1048 1344.5 Q1074 1344.5 1076.5 1358 Q1076 1360 1073.5 1357 Q1070 1351.5 1048 1351.5 Q1026 1351.5 1022.5 1357 Q1020 1360 1019.5 1358 Z" fill="none" stroke="#000" stroke-width="1.25"/>
<path d="M1021.5 1478.3 L1021.5 1497 Q1021.5 1504.5 1048 1504.5 Q1074.5 1504.5 1074.5 1497 L1074.5 1478.3" fill="none" stroke="#000" stroke-width="1.25"/>
<path d="M1019.5 1507 Q1022 1520.5 1048 1520.5 Q1074 1520.5 1076.5 1507 Q1076 1505 1073.5 1508 Q1070 1513.5 1048 1513.5 Q1026 1513.5 1022.5 1508 Q1020 1505 1019.5 1507 Z" fill="none" stroke="#000" stroke-width="1.25"/>
<path d="M1118.5 1386.4 L1118.5 1368 Q1118.5 1360.5 1145 1360.5 Q1171.5 1360.5 1171.5 1368 L1171.5 1386.4" fill="none" stroke="#000" stroke-width="1.25"/>
<path d="M1116.5 1358 Q1119 1344.5 1145 1344.5 Q1171 1344.5 1173.5 1358 Q1173 1360 1170.5 1357 Q1167 1351.5 1145 1351.5 Q1123 1351.5 1119.5 1357 Q1117 1360 1116.5 1358 Z" fill="none" stroke="#000" stroke-width="1.25"/>
<path d="M1118.5 1478.3 L1118.5 1497 Q1118.5 1504.5 1145 1504.5 Q1171.5 1504.5 1171.5 1497 L1171.5 1478.3" fill="none" stroke="#000" stroke-width="1.25"/>
<path d="M1116.5 1507 Q1119 1520.5 1145 1520.5 Q1171 1520.5 1173.5 1507 Q1173 1505 1170.5 1508 Q1167 1513.5 1145 1513.5 Q1123 1513.5 1119.5 1508 Q1117 1505 1116.5 1507 Z" fill="none" stroke="#000" stroke-width="1.25"/>
<rect x="951.7" y="1591.7" width="65.5" height="65.5" fill="none" stroke="#000" stroke-width="1.25"/>
<path d="M1074 1814.3 L1074 1580 Q1074 1571.7 1082 1571.7 L1152.7 1571.7" fill="none" stroke="#000" stroke-width="1.25"/>
<line x1="1074" y1="1649.5" x2="1152.7" y2="1649.5" stroke="#000" stroke-width="1.25"/>
<line x1="1152.7" y1="1571.7" x2="1152.7" y2="1814.3" stroke="#000" stroke-width="1.25"/>
<line x1="1074" y1="1814.3" x2="1152.7" y2="1814.3" stroke="#000" stroke-width="1.25"/>
<rect x="1155.7" y="1567" width="29.9" height="81.8" fill="none" stroke="#000" stroke-width="1.25" rx="5"/>
<rect x="1155.7" y="1650" width="29.9" height="86.7" fill="none" stroke="#000" stroke-width="1.25" rx="5"/>
<rect x="1155.7" y="1737.9" width="29.9" height="85.4" fill="none" stroke="#000" stroke-width="1.25" rx="5"/>
<path d="M1082.5 1578.5 Q1080 1562 1095 1560.5 Q1130 1557 1160 1567 Q1170 1571 1167 1578.5 Z" fill="#fff" stroke="#000" stroke-width="1.25"/>
<path d="M1082.5 1812 Q1080 1830 1095 1833 Q1130 1836 1160 1824 Q1170 1820 1167 1812 Z" fill="#fff" stroke="#000" stroke-width="1.25"/>
<path d="M1162 1625 Q1175 1615 1184 1598" fill="none" stroke="#000" stroke-width="1"/>
<path d="M1175 1625 Q1182 1612 1183 1600" fill="none" stroke="#000" stroke-width="1"/>
<path d="M1160 1662 Q1180 1675 1185 1690 Q1180 1705 1176 1715" fill="none" stroke="#000" stroke-width="1"/>
<path d="M1173 1663 Q1184 1680 1184 1690" fill="none" stroke="#000" stroke-width="1"/>
<path d="M1160 1751 Q1177 1760 1185 1778" fill="none" stroke="#000" stroke-width="1"/>
<path d="M1175 1751 Q1182 1760 1184 1770" fill="none" stroke="#000" stroke-width="1"/>
<path d="M1097 1578 Q1110 1574 1120 1570" fill="none" stroke="#000" stroke-width="1"/>
<path d="M1090 1578 Q1105 1576 1118 1572" fill="none" stroke="#000" stroke-width="1"/>
<path d="M1097 1814 Q1110 1818 1120 1822" fill="none" stroke="#000" stroke-width="1"/>
<path d="M1090 1814 Q1105 1816 1118 1820" fill="none" stroke="#000" stroke-width="1"/>
<path d="M1074 1720.2 L927 1720.2 Q918.6 1720.2 918.6 1728 L918.6 1806 Q918.6 1814.3 927 1814.3 L1074 1814.3" fill="none" stroke="#000" stroke-width="1.25"/>
<line x1="997.5" y1="1720.2" x2="997.5" y2="1814.3" stroke="#000" stroke-width="1.25"/>
<path d="M923.6 1732 Q923.6 1727 928.6 1727 L987.5 1727 Q992.5 1727 992.5 1732" fill="none" stroke="#000" stroke-width="1"/>
<path d="M923.6 1800 Q923.6 1807 928.6 1807 L987.5 1807 Q992.5 1807 992.5 1800" fill="none" stroke="#000" stroke-width="1"/>
<path d="M1002.5 1732 Q1002.5 1727 1007.5 1727 L1064 1727 Q1069 1727 1069 1732" fill="none" stroke="#000" stroke-width="1"/>
<path d="M1002.5 1800 Q1002.5 1807 1007.5 1807 L1064 1807 Q1069 1807 1069 1800" fill="none" stroke="#000" stroke-width="1"/>
<rect x="845.2" y="722.7" width="41.9" height="111.6" fill="none" stroke="#000" stroke-width="1.25"/>
<line x1="287" y1="149.4" x2="1212" y2="149.4" stroke="#000" stroke-width="0.7"/>
<line x1="296.4" y1="153.2" x2="304" y2="145.6" stroke="#000" stroke-width="0.9"/>
<line x1="688.6" y1="153.2" x2="696.2" y2="145.6" stroke="#000" stroke-width="0.9"/>
<line x1="704.2" y1="153.2" x2="711.8" y2="145.6" stroke="#000" stroke-width="0.9"/>
<line x1="1194.9" y1="153.2" x2="1202.5" y2="145.6" stroke="#000" stroke-width="0.9"/>
<line x1="379.4" y1="93" x2="379.4" y2="730" stroke="#000" stroke-width="0.7"/>
<line x1="375.6" y1="102.2" x2="383.2" y2="109.8" stroke="#000" stroke-width="0.9"/>
<line x1="375.6" y1="713.2" x2="383.2" y2="720.8" stroke="#000" stroke-width="0.9"/>
<line x1="761.6" y1="93" x2="761.6" y2="567" stroke="#000" stroke-width="0.7"/>
<line x1="757.8" y1="102.2" x2="765.4" y2="109.8" stroke="#000" stroke-width="0.9"/>
<line x1="757.8" y1="549.7" x2="765.4" y2="557.3" stroke="#000" stroke-width="0.9"/>
<line x1="528.6" y1="8" x2="528.6" y2="120" stroke="#000" stroke-width="0.7"/>
<line x1="950" y1="8" x2="950" y2="112" stroke="#000" stroke-width="0.7"/>
<line x1="892" y1="617.2" x2="1212" y2="617.2" stroke="#000" stroke-width="0.7"/>
<line x1="900.2" y1="621" x2="907.8" y2="613.4" stroke="#000" stroke-width="0.9"/>
<line x1="1194.9" y1="621" x2="1202.5" y2="613.4" stroke="#000" stroke-width="0.9"/>
<line x1="1144.6" y1="556.5" x2="1144.6" y2="975" stroke="#000" stroke-width="0.7"/>
<line x1="1140.8" y1="565.7" x2="1148.4" y2="573.3" stroke="#000" stroke-width="0.9"/>
<line x1="1140.8" y1="964.6" x2="1148.4" y2="972.2" stroke="#000" stroke-width="0.9"/>
<line x1="891.5" y1="931.3" x2="1212" y2="931.3" stroke="#000" stroke-width="0.7"/>
<line x1="900.2" y1="935.1" x2="907.8" y2="927.5" stroke="#000" stroke-width="0.9"/>
<line x1="1194.7" y1="935.1" x2="1202.3" y2="927.5" stroke="#000" stroke-width="0.9"/>
<line x1="1150.3" y1="968" x2="1150.3" y2="1882" stroke="#000" stroke-width="0.7"/>
<line x1="1146.5" y1="979.8" x2="1154.1" y2="987.4" stroke="#000" stroke-width="0.9"/>
<line x1="1146.5" y1="1864.2" x2="1154.1" y2="1871.8" stroke="#000" stroke-width="0.9"/>
<line x1="714" y1="1783.7" x2="1212.8" y2="1783.7" stroke="#000" stroke-width="0.7"/>
<line x1="723.5" y1="1787.5" x2="731.1" y2="1779.9" stroke="#000" stroke-width="0.9"/>
<line x1="1194.7" y1="1787.5" x2="1202.3" y2="1779.9" stroke="#000" stroke-width="0.9"/>
<line x1="737.6" y1="2058.5" x2="1212" y2="2058.5" stroke="#000" stroke-width="0.7"/>
<line x1="737" y1="2062.3" x2="744.6" y2="2054.7" stroke="#000" stroke-width="0.9"/>
<line x1="1188.2" y1="2062.3" x2="1195.8" y2="2054.7" stroke="#000" stroke-width="0.9"/>
<line x1="1134" y1="1902" x2="1134" y2="2110.4" stroke="#000" stroke-width="0.7"/>
<line x1="1130.2" y1="1910.2" x2="1137.8" y2="1917.8" stroke="#000" stroke-width="0.9"/>
<line x1="1130.2" y1="2093.6" x2="1137.8" y2="2101.2" stroke="#000" stroke-width="0.9"/>
<line x1="986.8" y1="1844.3" x2="986.8" y2="1955.2" stroke="#000" stroke-width="0.7"/>
<line x1="829.3" y1="1814.4" x2="829.3" y2="1921" stroke="#000" stroke-width="0.7"/>
<line x1="801.2" y1="484" x2="801.2" y2="584.5" stroke="#000" stroke-width="0.7"/>
<line x1="643" y1="649" x2="743" y2="649" stroke="#000" stroke-width="0.7"/>
<line x1="873.5" y1="642" x2="967.6" y2="642" stroke="#000" stroke-width="0.7"/>
<line x1="873.4" y1="894.8" x2="974.3" y2="894.8" stroke="#000" stroke-width="0.7"/>
<line x1="807.7" y1="970" x2="807.7" y2="1083.4" stroke="#000" stroke-width="0.7"/>
<line x1="583.4" y1="922.4" x2="646.9" y2="922.4" stroke="#000" stroke-width="0.7"/>
<circle cx="801.2" cy="605.4" r="21" fill="#fff" stroke="#000" stroke-width="1.1"/>
<text x="791.56" y="613.9" font-size="24.44" text-anchor="start" fill="#000" textLength="16.91" lengthAdjust="spacingAndGlyphs" stroke="#000" stroke-width="0.3">B1</text>
<circle cx="764.6" cy="649.2" r="21" fill="#fff" stroke="#000" stroke-width="1.1"/>
<text x="754.96" y="657.7" font-size="24.44" text-anchor="start" fill="#000" textLength="16.91" lengthAdjust="spacingAndGlyphs" stroke="#000" stroke-width="0.3">B1</text>
<circle cx="852" cy="642" r="21" fill="#fff" stroke="#000" stroke-width="1.1"/>
<text x="842.36" y="650.5" font-size="24.44" text-anchor="start" fill="#000" textLength="16.91" lengthAdjust="spacingAndGlyphs" stroke="#000" stroke-width="0.3">B1</text>
<circle cx="852.3" cy="894.8" r="21" fill="#fff" stroke="#000" stroke-width="1.1"/>
<text x="842.66" y="903.3" font-size="24.44" text-anchor="start" fill="#000" textLength="16.91" lengthAdjust="spacingAndGlyphs" stroke="#000" stroke-width="0.3">B1</text>
<circle cx="807.7" cy="946.3" r="23.5" fill="#fff" stroke="#000" stroke-width="1.1"/>
<text x="797.99" y="954.8" font-size="24.09" text-anchor="start" fill="#000" textLength="17.95" lengthAdjust="spacingAndGlyphs" stroke="#000" stroke-width="0.3">B2</text>
<text x="721.8" y="646.97" font-size="22.61" text-anchor="start" fill="#000" textLength="15.77" lengthAdjust="spacingAndGlyphs" stroke="#000" stroke-width="0.3">80</text>
<text x="714.09" y="667.76" font-size="23.75" text-anchor="start" fill="#000" textLength="23.65" lengthAdjust="spacingAndGlyphs" stroke="#000" stroke-width="0.3">210</text>
<text x="887.69" y="640.28" font-size="22.47" text-anchor="start" fill="#000" textLength="15.88" lengthAdjust="spacingAndGlyphs" stroke="#000" stroke-width="0.3">80</text>
<text x="879.58" y="660.66" font-size="24.03" text-anchor="start" fill="#000" textLength="23.97" lengthAdjust="spacingAndGlyphs" stroke="#000" stroke-width="0.3">210</text>
<text x="913.59" y="892.29" font-size="20.78" text-anchor="start" fill="#000" textLength="15.98" lengthAdjust="spacingAndGlyphs" stroke="#000" stroke-width="0.3">80</text>
<text x="905.58" y="912.77" font-size="22.61" text-anchor="start" fill="#000" textLength="23.97" lengthAdjust="spacingAndGlyphs" stroke="#000" stroke-width="0.3">210</text>
<text x="583.24" y="919.78" font-size="21.63" text-anchor="start" fill="#000" textLength="23.61" lengthAdjust="spacingAndGlyphs" stroke="#000" stroke-width="0.3">100</text>
<text x="582.98" y="940.48" font-size="21.77" text-anchor="start" fill="#000" textLength="23.87" lengthAdjust="spacingAndGlyphs" stroke="#000" stroke-width="0.3">210</text>
<text transform="translate(798.58 569.11) rotate(-90)" x="0" y="0" font-size="22.19" text-anchor="start" fill="#000" textLength="15.88" lengthAdjust="spacingAndGlyphs" stroke="#000" stroke-width="0.3">80</text>
<text transform="translate(819.47 576.7) rotate(-90)" x="0" y="0" font-size="22.76" text-anchor="start" fill="#000" textLength="23.44" lengthAdjust="spacingAndGlyphs" stroke="#000" stroke-width="0.3">210</text>
<text transform="translate(806.26 996.38) rotate(-90)" x="0" y="0" font-size="24.03" text-anchor="start" fill="#000" textLength="15.95" lengthAdjust="spacingAndGlyphs" stroke="#000" stroke-width="0.3">90</text>
<text transform="translate(826.76 1005.45) rotate(-90)" x="0" y="0" font-size="24.03" text-anchor="start" fill="#000" textLength="25.03" lengthAdjust="spacingAndGlyphs" stroke="#000" stroke-width="0.3">210</text>
<text transform="translate(826.96 1890.74) rotate(-90)" x="0" y="0" font-size="24.17" text-anchor="start" fill="#000" textLength="14.98" lengthAdjust="spacingAndGlyphs" stroke="#000" stroke-width="0.3">90</text>
<text transform="translate(849.36 1899.44) rotate(-90)" x="0" y="0" font-size="24.17" text-anchor="start" fill="#000" textLength="24.86" lengthAdjust="spacingAndGlyphs" stroke="#000" stroke-width="0.3">235</text>
<text transform="translate(526.17 59.76) rotate(-90)" x="0" y="0" font-size="22.59" text-anchor="start" fill="#000" textLength="51.12" lengthAdjust="spacingAndGlyphs" stroke="#000" stroke-width="0.3">180/150</text>
<text transform="translate(548.16 45.83) rotate(-90)" x="0" y="0" font-size="23.6" text-anchor="start" fill="#000" textLength="16.46" lengthAdjust="spacingAndGlyphs" stroke="#000" stroke-width="0.3">85</text>
<text transform="translate(947.77 60.07) rotate(-90)" x="0" y="0" font-size="23.13" text-anchor="start" fill="#000" textLength="51.64" lengthAdjust="spacingAndGlyphs" stroke="#000" stroke-width="0.3">180/150</text>
<text transform="translate(969.76 45.62) rotate(-90)" x="0" y="0" font-size="24.03" text-anchor="start" fill="#000" textLength="16.24" lengthAdjust="spacingAndGlyphs" stroke="#000" stroke-width="0.3">85</text>
<text transform="translate(983.37 1953.63) rotate(-90)" x="0" y="0" font-size="22.86" text-anchor="start" fill="#000" textLength="49.61" lengthAdjust="spacingAndGlyphs" stroke="#000" stroke-width="0.3">160/235</text>
<text transform="translate(1004.77 1933.42) rotate(-90)" x="0" y="0" font-size="22.9" text-anchor="start" fill="#000" textLength="8.62" lengthAdjust="spacingAndGlyphs" stroke="#000" stroke-width="0.3">0</text>
<text x="1167.36" y="1948.1" font-size="20.35" text-anchor="start" fill="#444" textLength="9.79" lengthAdjust="spacingAndGlyphs" stroke="#444" stroke-width="0.3">ПС</text>
<text x="466.77" y="142.42" font-size="38.02" text-anchor="start" fill="#000" textLength="59.3" lengthAdjust="spacingAndGlyphs">300</text>
<text x="924.18" y="142.13" font-size="37.46" text-anchor="start" fill="#000" textLength="58.77" lengthAdjust="spacingAndGlyphs">375</text>
<text transform="translate(753.73 359.22) rotate(-90)" x="0" y="0" font-size="37.31" text-anchor="start" fill="#000" textLength="58.82" lengthAdjust="spacingAndGlyphs">342</text>
<text transform="translate(371.44 441.31) rotate(-90)" x="0" y="0" font-size="36.47" text-anchor="start" fill="#000" textLength="59.84" lengthAdjust="spacingAndGlyphs">467</text>
<text x="1021.95" y="609.92" font-size="37.6" text-anchor="start" fill="#000" textLength="58.49" lengthAdjust="spacingAndGlyphs">225</text>
<text transform="translate(1137.31 714.88) rotate(-90)" x="0" y="0" font-size="38.73" text-anchor="start" fill="#000" textLength="57.38" lengthAdjust="spacingAndGlyphs" stroke="#000" stroke-width="0.3">178</text>
<text x="1021.94" y="923.83" font-size="36.89" text-anchor="start" fill="#000" textLength="58.81" lengthAdjust="spacingAndGlyphs">225</text>
<text transform="translate(1136.62 921.78) rotate(-90)" x="0" y="0" font-size="38.14" text-anchor="start" fill="#000" textLength="56.87" lengthAdjust="spacingAndGlyphs">115</text>
<text transform="translate(1143.41 1456.09) rotate(-90)" x="0" y="0" font-size="39.29" text-anchor="start" fill="#000" textLength="59.64" lengthAdjust="spacingAndGlyphs" stroke="#000" stroke-width="0.3">676</text>
<text x="933.66" y="1776.52" font-size="38.45" text-anchor="start" fill="#000" textLength="59.51" lengthAdjust="spacingAndGlyphs" stroke="#000" stroke-width="0.3">360</text>
<text transform="translate(1127.6 2035.65) rotate(-90)" x="0" y="0" font-size="39.58" text-anchor="start" fill="#000" textLength="59.02" lengthAdjust="spacingAndGlyphs" stroke="#000" stroke-width="0.3">140</text>
<text x="937.18" y="2050.62" font-size="38.16" text-anchor="start" fill="#000" textLength="58.66" lengthAdjust="spacingAndGlyphs" stroke="#000" stroke-width="0.3">345</text>
<text x="519.9" y="545.08" font-size="32.15" text-anchor="start" fill="#000" textLength="84.71" lengthAdjust="spacingAndGlyphs" stroke="#000" stroke-width="0.3">спалня</text>
<text x="506.49" y="577" font-size="32.69" text-anchor="start" fill="#000" textLength="106.03" lengthAdjust="spacingAndGlyphs" stroke="#000" stroke-width="0.3">14.2м.кв.</text>
<text x="871.41" y="335.48" font-size="32.33" text-anchor="start" fill="#000" textLength="84.09" lengthAdjust="spacingAndGlyphs" stroke="#000" stroke-width="0.3">спалня</text>
<text x="854.79" y="366.78" font-size="32.37" text-anchor="start" fill="#000" textLength="112.93" lengthAdjust="spacingAndGlyphs" stroke="#000" stroke-width="0.3">12.8 м.кв.</text>
<text x="949.92" y="661.99" font-size="31.38" text-anchor="start" fill="#000" textLength="126.72" lengthAdjust="spacingAndGlyphs" stroke="#000" stroke-width="0.3">баня с WC</text>
<text x="956.42" y="694.68" font-size="32.08" text-anchor="start" fill="#000" textLength="100.21" lengthAdjust="spacingAndGlyphs" stroke="#000" stroke-width="0.3">4.0 м.кв.</text>
<text x="542.79" y="751.29" font-size="31.42" text-anchor="start" fill="#000" textLength="109.49" lengthAdjust="spacingAndGlyphs" stroke="#000" stroke-width="0.3">кил.ниша</text>
<text x="553.29" y="781" font-size="32.58" text-anchor="start" fill="#000" textLength="99.01" lengthAdjust="spacingAndGlyphs" stroke="#000" stroke-width="0.3">1.1 м.кв.</text>
<text x="754.07" y="771.94" font-size="31.14" text-anchor="start" fill="#000" textLength="97.56" lengthAdjust="spacingAndGlyphs" stroke="#000" stroke-width="0.3">коридор</text>
<text x="752.11" y="807.27" font-size="32.79" text-anchor="start" fill="#000" textLength="100.42" lengthAdjust="spacingAndGlyphs" stroke="#000" stroke-width="0.3">6.0 м.кв.</text>
<text x="995.28" y="856.98" font-size="32.08" text-anchor="start" fill="#000" textLength="41.22" lengthAdjust="spacingAndGlyphs" stroke="#000" stroke-width="0.3">WC</text>
<text x="982.2" y="884.5" font-size="32.54" text-anchor="start" fill="#000" textLength="101.15" lengthAdjust="spacingAndGlyphs" stroke="#000" stroke-width="0.3">2.2 м.кв.</text>
<text x="831.14" y="1263.37" font-size="28.09" text-anchor="start" fill="#000" textLength="223.33" lengthAdjust="spacingAndGlyphs" stroke="#000" stroke-width="0.3">дневна с кухн.бокс</text>
<text x="862.91" y="1295.6" font-size="30.97" text-anchor="start" fill="#000" textLength="114.86" lengthAdjust="spacingAndGlyphs" stroke="#000" stroke-width="0.3">24.1 м.кв.</text>
<text x="892.41" y="1972.18" font-size="31.52" text-anchor="start" fill="#000" textLength="84.29" lengthAdjust="spacingAndGlyphs" stroke="#000" stroke-width="0.3">балкон</text>
<text x="889.76" y="1997.78" font-size="32.4" text-anchor="start" fill="#000" textLength="100.47" lengthAdjust="spacingAndGlyphs" stroke="#000" stroke-width="0.3">5.1 м.кв.</text>
<rect x="430.6" y="889" width="119.7" height="70" fill="none" stroke="#888" stroke-width="1.3"/>
<text x="472.6" y="914.37" font-size="32.54" text-anchor="start" fill="#000" textLength="78.44" lengthAdjust="spacingAndGlyphs" stroke="#000" stroke-width="0.3">ап.Г47</text>
<text x="442.61" y="952.47" font-size="33.21" text-anchor="start" fill="#000" textLength="95.69" lengthAdjust="spacingAndGlyphs" stroke="#000" stroke-width="0.3">80,73м2</text>
</svg>
</body></html>
